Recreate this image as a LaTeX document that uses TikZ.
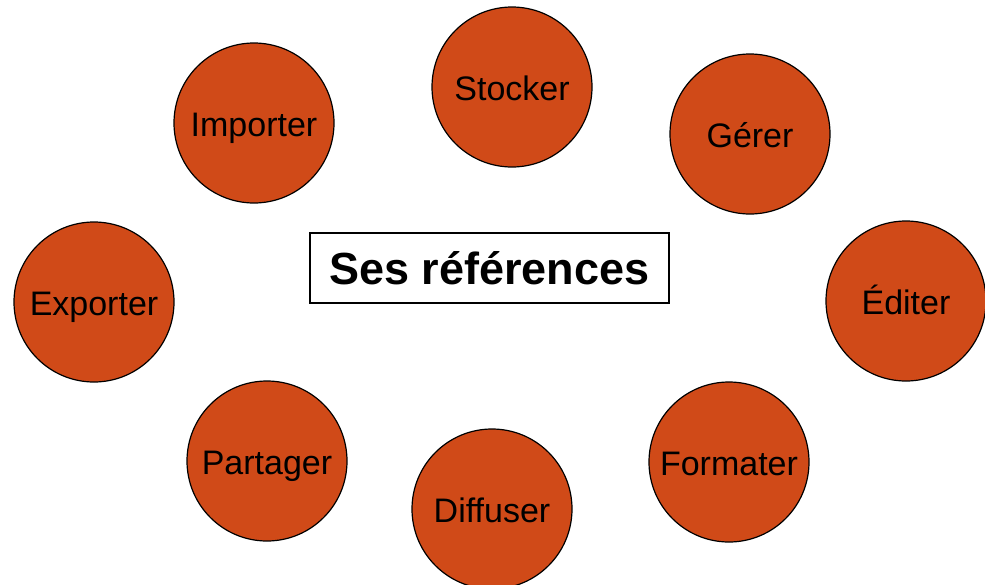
\documentclass[tikz,border=0pt]{standalone}
\usepackage{fontspec}
\setmainfont{Liberation Sans}
\definecolor{bubblefill}{RGB}{208,74,24}

\tikzset{%
        every bubble/.style={
            circle,
            draw=black,
            line width=1.2pt,
            fill=bubblefill,
            inner sep=0pt,
            minimum size=160pt,
            text height=26pt,
            text depth=0pt,
            font=\fontsize{34}{38}\selectfont
        },
        centre box/.style={
            draw=black,
            line width=1.5pt,
            fill=white,
            minimum width=359pt,
            minimum height=70pt,
            font=\fontsize{45}{50}\selectfont\bfseries
        },
    }

\begin{document}
\begin{tikzpicture}[x=1pt, y=-1pt]

        \useasboundingbox (0,0) rectangle (985,584);

        \node [centre box] (centre) at (489.5,268) {Ses références};

        \foreach \m/\x/\y in {Importer/254/123, Stocker/512/87, Gérer/750/134,
            Exporter/94/302, Éditer/906/301, Partager/267/461,
            Diffuser/492/509, Formater/729/462}
        \node [every bubble] (bubble-\m) at (\x,\y) {\m};

    \end{tikzpicture}
\end{document}
